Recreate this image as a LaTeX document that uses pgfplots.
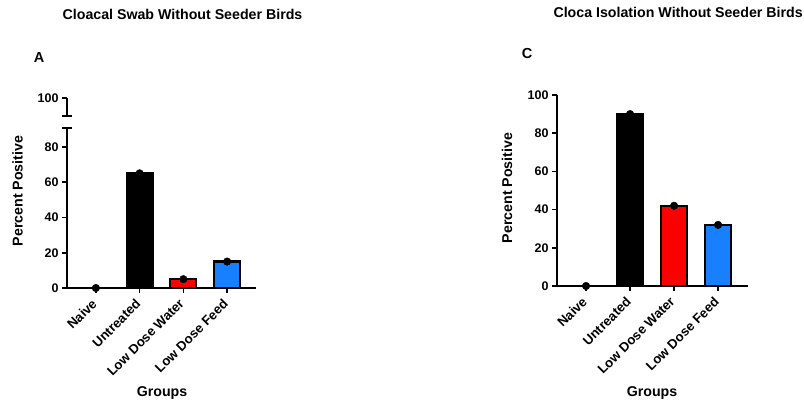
\documentclass[border=0pt]{standalone}
\usepackage{fontspec}
\setmainfont{Liberation Sans}
\usepackage{pgfplots}
\pgfplotsset{compat=1.18}

\definecolor{barred}{RGB}{250,0,0}
\definecolor{barblue}{RGB}{24,128,255}

\pgfplotsset{
  gp/.style={
    scale only axis, clip=false,
    axis line style={line width=1.6pt, -},
    tick style={line width=1.6pt, black},
    tick align=outside, major tick length=5pt,
    /pgf/number format/assume math mode=true,
    yticklabel style={font=\fontsize{12.5}{14}\selectfont\bfseries},
    xticklabel style={font=\fontsize{13.2}{15}\selectfont\bfseries, xshift=-5pt, yshift=-3.5pt, rotate=45, anchor=north east, inner sep=1pt},
  },
  gpbar/.style={ybar, bar shift=0pt, bar width=26pt, draw=black, line width=2.2pt, fill=#1},
  gpdot/.style={only marks, mark=*, mark size=3.8pt, black},
}

\begin{document}
\begin{tikzpicture}
\useasboundingbox (0,0) rectangle (804pt,404pt);

% left panel, lower segment
\begin{axis}[gp, at={(67pt,116pt)}, anchor=south west,
  width=189pt, height=160pt,
  xmin=-0.66, xmax=3.66, ymin=0, ymax=90.7,
  axis x line*=bottom, axis y line*=left,
  xtick={0,1,2,3},
  xticklabels={Naive, Untreated, Low Dose Water, Low Dose Feed},
  ytick={0,20,40,60,80}]
  \addplot[gpbar=black] coordinates {(1,65)};
  \addplot[gpbar=barred] coordinates {(2,5)};
  \addplot[gpbar=barblue] coordinates {(3,15)};
  \addplot[gpdot] coordinates {(0,0) (1,65) (2,5) (3,15)};
  \draw[line width=1.6pt] ([xshift=-5pt]rel axis cs:0,1) -- ([xshift=5pt]rel axis cs:0,1);
\end{axis}

% left panel, upper segment
\begin{axis}[gp, at={(67pt,288pt)}, anchor=south west,
  width=189pt, height=18pt,
  xmin=-0.66, xmax=3.66, ymin=97, ymax=100,
  hide x axis, axis y line*=left,
  ytick={100}]
  \draw[line width=1.6pt] ([xshift=-5pt]rel axis cs:0,0) -- ([xshift=5pt]rel axis cs:0,0);
\end{axis}

% right panel
\begin{axis}[gp, at={(557pt,118pt)}, anchor=south west,
  width=191pt, height=191pt,
  xmin=-0.66, xmax=3.68, ymin=0, ymax=100,
  axis x line*=bottom, axis y line*=left,
  xtick={0,1,2,3},
  xticklabels={Naive, Untreated, Low Dose Water, Low Dose Feed},
  ytick={0,20,40,60,80,100}]
  \addplot[gpbar=black] coordinates {(1,90)};
  \addplot[gpbar=barred] coordinates {(2,42)};
  \addplot[gpbar=barblue] coordinates {(3,32)};
  \addplot[gpdot] coordinates {(0,0) (1,90) (2,42) (3,32)};
\end{axis}

\node[font=\fontsize{14.2}{16}\selectfont\bfseries] at (182.5pt,390pt) {Cloacal Swab Without Seeder Birds};
\node[font=\fontsize{14.2}{16}\selectfont\bfseries, anchor=west] at (550pt,392pt) {Cloca Isolation Without Seeder Birds};
\node[font=\fontsize{14.5}{16}\selectfont\bfseries] at (39pt,346pt) {A};
\node[font=\fontsize{14.5}{16}\selectfont\bfseries] at (527pt,350pt) {C};
\node[font=\fontsize{14.2}{16}\selectfont\bfseries, rotate=90] at (17.5pt,213pt) {Percent Positive};
\node[font=\fontsize{14.2}{16}\selectfont\bfseries, rotate=90] at (507pt,216pt) {Percent Positive};
\node[font=\fontsize{14.2}{16}\selectfont\bfseries] at (162pt,11pt) {Groups};
\node[font=\fontsize{14.2}{16}\selectfont\bfseries] at (652pt,11pt) {Groups};
\end{tikzpicture}
\end{document}
